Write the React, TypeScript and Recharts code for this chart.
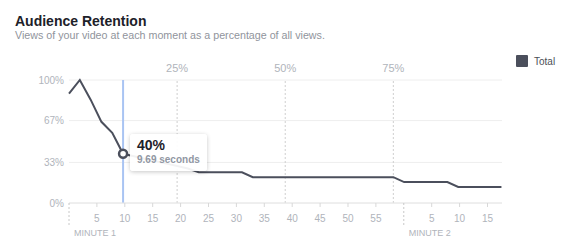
import React from 'react';
import {
  ComposedChart,
  Line,
  XAxis,
  YAxis,
  CartesianGrid,
  ReferenceLine,
  ReferenceDot,
} from 'recharts';

const seconds = [
  0, 1.94, 3.88, 5.81, 7.75, 9.69, 11.63, 13.56, 15.5, 17.44, 19.38, 21.31, 23.25, 25.19,
  27.13, 29.06, 31.0, 32.94, 34.88, 36.81, 38.75, 40.69, 42.63, 44.56, 46.5, 48.44, 50.38,
  52.31, 54.25, 56.19, 58.13, 60.06, 62.0, 63.94, 65.88, 67.81, 69.75, 71.69, 73.63, 75.56,
  77.5,
];
const retention = [
  89, 100, 84, 66, 57, 40, 38, 36, 34, 32, 30, 28, 25, 25, 25, 25, 25, 21, 21, 21, 21, 21,
  21, 21, 21, 21, 21, 21, 21, 21, 21, 17, 17, 17, 17, 17, 13, 13, 13, 13, 13,
];
const xTicks = [0, 5, 10, 15, 20, 25, 30, 35, 40, 45, 50, 55, 60, 65, 70, 75];
const xTickLabels = ['', '5', '10', '15', '20', '25', '30', '35', '40', '45', '50', '55', '', '5', '10', '15'];
const minuteMarks = [0, 60];
const minuteLabels = ['MINUTE 1', 'MINUTE 2'];
const yTicks = [0, 33, 67, 100];
const yTickLabels = ['0%', '33%', '67%', '100%'];
const quarterMarks = [19.375, 38.75, 58.125];
const quarterLabels = ['25%', '50%', '75%'];
const hoverSecond = 9.69;
const hoverValue = 40;
const hoverLabel = '40%';
const hoverSub = '9.69 seconds';
const seriesName = 'Total';

const data = seconds.map((s, i) => ({ s, v: retention[i] }));

const FONT = 'Helvetica, Arial, "Liberation Sans", sans-serif';
const LINE = '#4b4f5c';
const TICK = '#b0b4bb';

const XTick = (props: any) => {
  const { x, y, payload } = props;
  const idx = xTicks.indexOf(payload.value);
  const mIdx = minuteMarks.indexOf(payload.value);
  if (mIdx >= 0) {
    return (
      <g>
        <line x1={x} y1={y} x2={x} y2={y + 24} stroke="#c8c8c8" strokeDasharray="2 2" />
        <text x={x + 5} y={y + 32.5} fill={TICK} fontSize={9} fontFamily={FONT}>
          {minuteLabels[mIdx]}
        </text>
      </g>
    );
  }
  return (
    <g>
      <line x1={x} y1={y} x2={x} y2={y + 4} stroke="#d8d8d8" />
      <text x={x} y={y + 18.5} fill={TICK} fontSize={10} fontFamily={FONT} textAnchor="middle">
        {xTickLabels[idx]}
      </text>
    </g>
  );
};

const YTick = (props: any) => {
  const { y, payload } = props;
  const idx = yTicks.indexOf(payload.value);
  return (
    <text x={64} y={y + 3.5} fill={TICK} fontSize={10} fontFamily={FONT} textAnchor="end">
      {yTickLabels[idx]}
    </text>
  );
};

const QuarterLabel = (text: string) => (props: any) => {
  const { viewBox } = props;
  return (
    <text x={viewBox.x} y={72} fill={TICK} fontSize={11} fontFamily={FONT} textAnchor="middle">
      {text}
    </text>
  );
};

export default function App() {
  return (
    <div style={{ position: 'fixed', left: 0, top: 0, width: 569, height: 241, background: '#fff' }}>
      <div
        style={{
          position: 'absolute',
          left: 15,
          top: 13,
          fontFamily: FONT,
          fontWeight: 'bold',
          fontSize: 14,
          lineHeight: '16px',
          color: '#1d2129',
          whiteSpace: 'nowrap',
        }}
      >
        Audience Retention
      </div>
      <div
        style={{
          position: 'absolute',
          left: 15,
          top: 29,
          fontFamily: FONT,
          fontSize: 10.7,
          lineHeight: '12px',
          color: '#90949c',
          whiteSpace: 'nowrap',
        }}
      >
        Views of your video at each moment as a percentage of all views.
      </div>
      <div style={{ position: 'absolute', left: 0, top: 0 }}>
        <ComposedChart
          width={569}
          height={241}
          data={data}
          margin={{ top: 80, right: 67, bottom: 0, left: 0 }}
        >
          <CartesianGrid horizontal vertical={false} stroke="#eeeeee" />
          <XAxis
            dataKey="s"
            type="number"
            domain={[0, 77.6]}
            ticks={xTicks}
            interval={0}
            height={38}
            axisLine={{ stroke: '#e6e6e6' }}
            tickLine={false}
            tickSize={0}
            tickMargin={0}
            tick={<XTick />}
          />
          <YAxis
            type="number"
            domain={[0, 100]}
            ticks={yTicks}
            width={69}
            axisLine={false}
            tickLine={false}
            tick={<YTick />}
          />
          {quarterMarks.map((q, i) => (
            <ReferenceLine
              key={q}
              x={q}
              stroke="#cfcfcf"
              strokeDasharray="2 2"
              label={QuarterLabel(quarterLabels[i])}
            />
          ))}
          <ReferenceLine x={hoverSecond} stroke="#a9c4f3" strokeWidth={2} />
          <Line
            dataKey="v"
            name={seriesName}
            stroke={LINE}
            strokeWidth={2}
            dot={false}
            activeDot={false}
            type="linear"
            isAnimationActive={false}
          />
          <ReferenceDot
            x={hoverSecond}
            y={hoverValue}
            r={4}
            fill="#ffffff"
            stroke={LINE}
            strokeWidth={2.5}
          />
        </ComposedChart>
      </div>
      <div
        style={{
          position: 'absolute',
          left: 516,
          top: 55,
          display: 'flex',
          alignItems: 'center',
          fontFamily: FONT,
        }}
      >
        <div style={{ width: 12, height: 12, background: LINE, borderRadius: 1 }} />
        <span style={{ marginLeft: 6, fontSize: 10, color: '#4b4f56' }}>{seriesName}</span>
      </div>
      <div
        style={{
          position: 'absolute',
          left: 130,
          top: 134,
          width: 77,
          height: 37,
          background: 'rgba(255,255,255,0.93)',
          borderRadius: 3,
          boxShadow: '0 1px 4px rgba(0,0,0,0.22)',
          fontFamily: FONT,
          boxSizing: 'border-box',
          paddingLeft: 7,
        }}
      >
        <div style={{ fontSize: 14, fontWeight: 'bold', color: '#1d2129', marginTop: 3, lineHeight: '16px' }}>
          {hoverLabel}
        </div>
        <div style={{ fontSize: 10, fontWeight: 'bold', color: '#9197a3', lineHeight: '12px', marginTop: 1, whiteSpace: 'nowrap' }}>
          {hoverSub}
        </div>
      </div>
    </div>
  );
}
